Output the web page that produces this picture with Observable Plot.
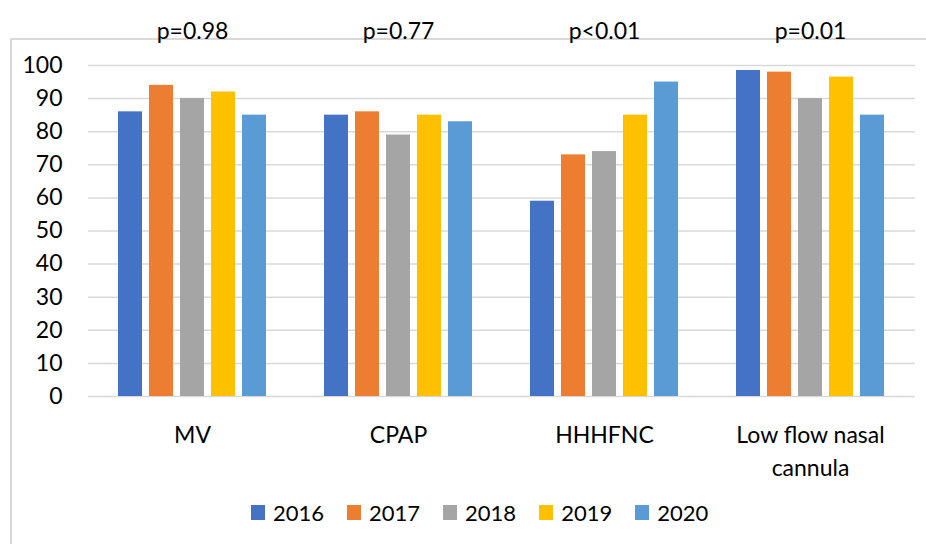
<!DOCTYPE html>
<html>
<head>
<meta charset="utf-8">
<script src="https://cdn.jsdelivr.net/npm/d3@7"></script>
<script src="https://cdn.jsdelivr.net/npm/@observablehq/plot@0.6"></script>
<style>
  html, body { margin: 0; padding: 0; background: #fff; width: 926px; height: 544px; overflow: hidden; }
  body { position: relative; font-family: Lato, "Open Sans", sans-serif; }
  #box { position: absolute; left: 10px; top: 38px; width: 940px; height: 540px; border: 2px solid #d9d9d9; box-sizing: border-box; }
  #grid, #chart { position: absolute; left: 0; top: 0; }
  #legend { position: absolute; left: 251px; top: 499px; display: flex; align-items: center; font-size: 22px; color: #000; }
  .item { display: flex; align-items: center; margin-right: 23px; }
  .sw { width: 14px; height: 15px; margin-right: 8px; }
</style>
</head>
<body>
<div id="box"></div>
<div id="grid"></div>
<div id="chart"></div>
<div id="legend"></div>
<script>
const categories = ["MV", "CPAP", "HHHFNC", "Low flow nasal cannula"];
const categoryLabels = ["MV", "CPAP", "HHHFNC", "Low flow nasal\ncannula"];
const years = ["2016", "2017", "2018", "2019", "2020"];
const colors = ["#4472C4", "#ED7D31", "#A5A5A5", "#FFC000", "#5B9BD5"];
const values2016 = [86, 85, 59, 98.5];
const values2017 = [94, 86, 73, 98];
const values2018 = [90, 79, 74, 90];
const values2019 = [92, 85, 85, 96.5];
const values2020 = [85, 83, 95, 85];
const pValues = ["p=0.98", "p=0.77", "p<0.01", "p=0.01"];
const yTicks = [0, 10, 20, 30, 40, 50, 60, 70, 80, 90, 100];

const series = [values2016, values2017, values2018, values2019, values2020];
const data = [];
categories.forEach((c, ci) => {
  years.forEach((y, yi) => data.push({category: c, year: y, value: series[yi][ci]}));
});
const labelOf = new Map(categories.map((c, i) => [c, categoryLabels[i]]));
const pData = categories.map((c, i) => ({category: c, p: pValues[i]}));

const common = {
  width: 926,
  height: 490,
  marginTop: 65,
  marginBottom: 94,
  marginLeft: 88,
  marginRight: 11,
  style: {fontFamily: "Lato, 'Open Sans', sans-serif", fontSize: "23px", color: "#000", background: "transparent", overflow: "visible"}
};

const grid = Plot.plot({
  ...common,
  y: {domain: [0, 100], label: null},
  marks: [
    Plot.ruleY(yTicks, {stroke: "#d9d9d9", strokeWidth: 1.5}),
    Plot.axisY({ticks: yTicks, tickSize: 0, tickPadding: 26, fontSize: 23, label: null})
  ]
});
document.getElementById("grid").appendChild(grid);

const chart = Plot.plot({
  ...common,
  fx: {domain: categories, paddingInner: 0.27, paddingOuter: 0.135, label: null, axis: null},
  x: {domain: years, paddingInner: 0.21, paddingOuter: 0, axis: null},
  y: {domain: [0, 100], label: null, axis: null},
  color: {domain: years, range: colors},
  marks: [
    Plot.barY(data, {fx: "category", x: "year", y: "value", fill: "year"}),
    Plot.axisFx({anchor: "bottom", tickSize: 0, tickPadding: 24, fontSize: 23, lineHeight: 1.4, label: null, tickFormat: d => labelOf.get(d)}),
    Plot.text(pData, {fx: "category", text: "p", frameAnchor: "top", dy: -43, fontSize: 23})
  ]
});
document.getElementById("chart").appendChild(chart);

const legend = document.getElementById("legend");
years.forEach((y, i) => {
  const item = document.createElement("div");
  item.className = "item";
  const sw = document.createElement("div");
  sw.className = "sw";
  sw.style.background = colors[i];
  const t = document.createElement("span");
  t.textContent = y;
  item.appendChild(sw);
  item.appendChild(t);
  legend.appendChild(item);
});
</script>
</body>
</html>
